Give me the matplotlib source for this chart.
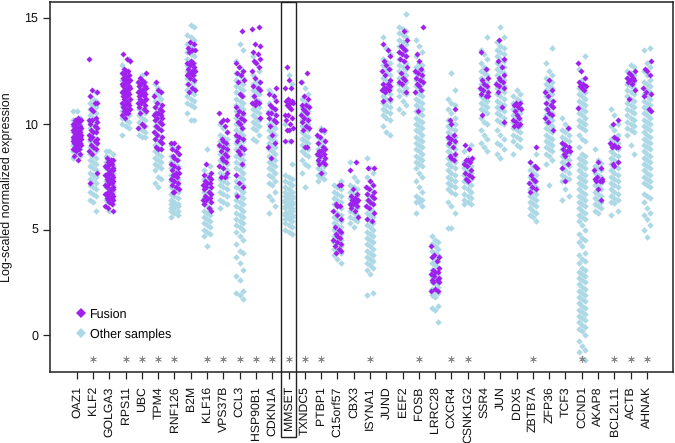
import matplotlib
matplotlib.use("Agg")
import matplotlib.pyplot as plt
from matplotlib.patches import Rectangle
from matplotlib.lines import Line2D

plt.rcParams['font.family'] = ['Liberation Sans', 'DejaVu Sans']
plt.rcParams['text.hinting'] = 'no_hinting'

genes = ["OAZ1","KLF2","GOLGA3","RPS11","UBC","TPM4","RNF126","B2M","KLF16","VPS37B","CCL3","HSP90B1","CDKN1A","MMSET",
         "TXNDC5","PTBP1","C15orf57","CBX3","ISYNA1","JUND","EEF2","FOSB","LRRC28","CXCR4","CSNK1G2","SSR4","JUN","DDX5",
         "ZBTB7A","ZFP36","TCF3","CCND1","AKAP8","BCL2L11","ACTB","AHNAK"]
starred = ["KLF2","RPS11","UBC","TPM4","RNF126","KLF16","VPS37B","CCL3","HSP90B1","CDKN1A","MMSET","TXNDC5","PTBP1",
           "ISYNA1","FOSB","CXCR4","CSNK1G2","ZBTB7A","CCND1","BCL2L11","ACTB","AHNAK"]
star_y = -1.12
yticks = [0, 5, 10, 15]

# values, other samples (_o) and fusion (_f)
OAZ1_o = [10.6,10.6,10.3,10.2,10.1,10,9.9,9.8,9.7,9.6,9.5,9.4,9.3,9.2,9.1,9,8.9,8.8,8.7,8.6,8.5,8.4]
OAZ1_f = [10.3,10.2,10.2,10.1,10.1,10,10,9.9,9.9,9.8,9.8,9.8,9.7,9.7,9.7,9.6,9.6,9.6,9.5,9.5,9.5,9.5,9.4,9.4,9.4,9.4,9.3,9.3,9.3,9.3,9.2,9.2,9.2,9.1,9.1,9.1,9,9,8.9,8.9,8.8,8.8,8.7,8.6,8.5,8.3]
KLF2_o = [11.5,11.3,11.2,11.1,11,10.9,10.8,10.7,10.6,10.5,10.4,10.3,10.2,10.1,10,9.9,9.8,9.7,9.6,9.5,9.4,9.3,9.2,9.1,9,8.9,8.8,8.7,8.6,8.5,8.4,8.3,8.2,8.1,8,7.9,7.8,7.7,7.6,7.5,7.4,7.3,7.2,7.1,7,6.9,6.8,6.7,6.6,6.4,6.3,5.9]
KLF2_f = [13.1,11.6,11.5,11.3,11,11,10.7,10.6,10.3,10.2,10.2,10.1,10,9.9,9.8,9.7,9.6,9.6,9.5,9.4,9.3,9.3,9.2,9.1,9,8.9,8.8,8.7,8.6,7.7,7.2]
GOLGA3_o = [8.7,8.7,8.6,8.5,8.4,8.3,8.2,8.1,8,7.9,7.8,7.7,7.6,7.5,7.4,7.3,7.2,7.1,7,6.9,6.8,6.7,6.6,6.5,6.4,6.3,6.2,6.1,5.9]
GOLGA3_f = [8.4,8.3,8.3,8.2,8.1,8.1,8,8,7.9,7.9,7.8,7.8,7.7,7.7,7.6,7.6,7.5,7.5,7.4,7.4,7.3,7.3,7.2,7.2,7.1,7.1,7,7,6.9,6.9,6.8,6.8,6.7,6.7,6.6,6.6,6.5,6.5,6.4,6.4,6.3,6.2,6.1,6,5.9]
RPS11_o = [13.1,12.8,12.5,12.3,12.1,11.9,11.7,11.5,11.3,11.1,10.9,10.8,10.7,10.6,10.5,10.4,10.3,10.2,10.1,10,9.9,9.8,9.5]
RPS11_f = [13.3,13.1,13,12.6,12.5,12.5,12.4,12.3,12.3,12.2,12.2,12.1,12.1,12,12,11.9,11.9,11.8,11.8,11.7,11.7,11.6,11.6,11.5,11.5,11.4,11.4,11.3,11.3,11.2,11.2,11.1,11,11,10.9,10.9,10.8,10.7,10.7,10.6,10.5,10.5,10.4,10.3]
UBC_o = [12.3,12,11.8,11.6,11.4,11.2,11,10.8,10.7,10.6,10.5,10.4,10.3,10.2,10.1,10,9.9,9.8,9.7,9.6,9.5,9.4,9.4]
UBC_f = [12.4,12.2,12.1,12,12,11.9,11.8,11.8,11.7,11.7,11.6,11.6,11.5,11.5,11.4,11.4,11.3,11.3,11.2,11.2,11.1,11.1,11,11,10.9,10.8,10.7,10.6,10.5,10,9.9,9.8]
TPM4_o = [11.9,11.7,11.5,11.4,11.3,11.2,11.1,11,10.9,10.8,10.7,10.6,10.5,10.4,10.3,10.2,10.1,10,9.9,9.8,9.7,9.6,9.5,9.4,9.3,9.2,9.1,9,8.9,8.8,8.7,8.6,8.5,8.4,8.3,8.2,8.1,8,7.9,7.8,7.5,7.4,7.2,7]
TPM4_f = [12,11.6,11.5,11.3,11,10.9,10.8,10.7,10.6,10.5,10.5,10.4,10.4,10.3,10.3,10.2,10.1,10,9.9,9.8,9.7,9.6,9.5,9.4,9.3,9.2,9.1,8.9,8.8,8.8]
RNF126_o = [9,8.8,8.6,8.5,8.4,8.3,8.2,8.1,8,7.9,7.8,7.7,7.6,7.5,7.4,7.3,7.2,7.1,7,6.9,6.8,6.7,6.6,6.5,6.4,6.3,6.2,6.2,6.1,6.1,6,6,5.9,5.9,5.8,5.7,5.6]
RNF126_f = [9.1,9.1,8.9,8.8,8.7,8.6,8.5,8.4,8.3,8.1,8,7.9,7.8,7.7,7.7,7.6,7.6,7.5,7.4,7.3,7.2,7.1,7,6.9,6.8,6.8]
B2M_o = [14.7,14.6,14.2,14.1,14,13.8,13.7,13.5,13.4,13.3,13.2,13.1,13,12.9,12.8,12.7,12.6,12.5,12.4,12.3,12.2,12.1,12,11.9,11.8,11.7,11.6,11.5,11.4,11.3,11.2,11.1,11,10.9,10.8,10.5,10.2,10.2]
B2M_f = [13.9,13.8,13.6,13.5,13.5,13.4,13,12.9,12.9,12.8,12.7,12.6,12.5,12.5,12.4,12.4,12.3,12.3,12.2,12.1,11.9,11.7,11.6,11.5]
KLF16_o = [8.8,8,7.8,7.6,7.5,7.4,7.3,7.2,7.1,7,6.9,6.8,6.7,6.6,6.5,6.4,6.3,6.2,6.1,6,5.9,5.8,5.7,5.6,5.5,5.4,5.3,5.2,5.1,5,4.9,4.8,4.7,4.2]
KLF16_f = [8.1,7.7,7.6,7.5,7.4,7.3,7.2,7.2,7.1,7,7,6.9,6.8,6.7,6.6,6.5,6.5,6.4,6.4,6.3,6.2,6,5.9]
VPS37B_o = [10,9.8,9.6,9.5,9.4,9.3,9.2,9.1,9,8.9,8.8,8.7,8.6,8.5,8.4,8.3,8.2,8.1,8,7.9,7.8,7.7,7.6,7.5,7.4,7.3,7.2,7.1,7,6.9,6.8,6.7,6.6,6.4,6.3,6.2,6]
VPS37B_f = [10.5,10.2,10.2,10.1,9.9,9.6,9.3,9.2,9.1,9,8.9,8.8,8.7,8.6,8.5,8.4,8.3,8.2,8,7.9,7.7,7.5,7.5]
CCL3_o = [13.8,13.5,13,12.7,12.5,12.4,12.3,12.2,12.1,12,11.9,11.8,11.7,11.6,11.5,11.4,11.3,11.2,11.1,11,10.9,10.8,10.7,10.6,10.5,10.4,10.3,10.2,10.1,10,9.9,9.8,9.7,9.6,9.5,9.4,9.3,9.2,9.1,9,8.9,8.8,8.7,8.6,8.5,8.4,8.3,8.2,8.1,8,7.9,7.8,7.7,7.6,7.5,7.4,7.3,7.2,7.1,7,6.9,6.8,6.7,6.6,6.5,6.4,6.3,6.2,6.1,6,5.9,5.8,5.7,5.6,5.5,5.4,5.3,5.2,5.1,5,4.9,4.7,4.5,4.3,4,3.9,3.7,3.4,3.1,2.8,2.6,2.1,2,1.9,1.7]
CCL3_f = [14.4,12.9,12.7,12.5,12.4,12.3,12.1,12,11.4,11.3,10.8,10.6,10.5,10.4,10.3,10.2,10.1,10,9.8,9.5,9.4,9.3,9.2,8.9,8.8,8.7,8.6,8.1,7.6,7.2,7,6.6]
HSP90B1_o = [13.2,12.9,12.5,12.3,12.1,12,11.9,11.8,11.7,11.6,11.5,11.4,11.3,11.2,11.1,11,10.9,10.8,10.7,10.6,10.5,10.4,10.3,10.2,10.1,10,9.9,9.8,9.7,9.5,9.3,9.2]
HSP90B1_f = [14.6,14.5,13.8,13.7,13.4,13.3,13.1,13,12.9,12.7,12.5,12.2,12,11.8,11.7,11.6,11.3,11.1,11,11,10.9,10.3]
CDKN1A_o = [11.6,11.4,11.2,11,10.8,10.7,10.6,10.5,10.4,10.3,10.2,10.1,10,9.9,9.8,9.7,9.6,9.5,9.4,9.3,9.2,9.1,9,8.9,8.8,8.7,8.6,8.5,8.4,8.3,8.2,8.1,8,7.9,7.8,7.7,7.6,7.5,7.3,7.2,7.1,6.8,6.6,6.4,6.1,5.8]
CDKN1A_f = [11.7,11.4,11.3,11.1,10.9,10.8,10.7,10.5,10.5,10.4,10.3,10.2,10.1,9.9,9.5,9.1,8.9,8.4]
MMSET_o = [12.3,11.9,10,9.2,8.1,7.6,7.5,7.4,7.3,7.2,7.1,7,6.9,6.8,6.8,6.7,6.6,6.6,6.5,6.5,6.4,6.4,6.3,6.3,6.2,6.2,6.1,6.1,6,6,5.9,5.9,5.8,5.8,5.7,5.7,5.6,5.6,5.5,5.5,5.4,5.3,5.2,5.1,5,4.9,4.8]
MMSET_f = [12.7,12.1,11.7,11.7,11.2,11.1,11.1,11,11,10.9,10.8,10.7,10.4,10.4,10.3,10.2,10,9.8,9.7,9.7,9.2,9.2]
TXNDC5_o = [12,11.7,11.4,11.2,11,10.9,10.8,10.7,10.6,10.5,10.4,10.3,10.2,10.1,10,9.9,9.8,9.7,9.6,9.5,9.4,9.3,9.2,9.1,9,8.9,8.8,8.7,8.6,8.5,8.3,8.1,8,7.7,7]
TXNDC5_f = [12.4,12,11.3,11.2,10.9,10.9,10.8,10.7,10.6,10.5,10.4,10.3,10.2,10.1,9.9,9.8,9.7,8.9,8.9]
PTBP1_o = [9.8,9.6,9.4,9.3,9.2,9.1,9,8.9,8.8,8.7,8.6,8.5,8.4,8.3,8.2,8.1,8,7.9,7.8,7.7,7.6,7.5,7.4,7.3]
PTBP1_f = [9.7,9.7,9.5,9.4,9.2,9.1,8.9,8.8,8.7,8.7,8.6,8.6,8.5,8.4,8.3,8.2,8.1,8.1,7.7]
C15orf57_o = [7.3,7.1,7,6.9,6.8,6.7,6.6,6.5,6.4,6.3,6.2,6.1,6,5.9,5.8,5.7,5.6,5.5,5.4,5.3,5.2,5.1,5,4.9,4.8,4.7,4.6,4.5,4.4,4.3,4.2,4.1,4,3.9,3.8,3.6,3.4]
C15orf57_f = [7.1,7.1,6.2,6.1,6.1,5.9,5.7,5.5,5.1,5,4.9,4.8,4.7,4.6,4.5,4.4,4.3,4.2,4.1,4,3.9]
CBX3_o = [8.2,7.5,7.3,7.1,7,6.9,6.8,6.7,6.6,6.5,6.4,6.3,6.2,6.1,6,5.9,5.8,5.7,5.6,5.5,5.4,5.3,5.1]
CBX3_f = [8.2,7.8,6.9,6.7,6.6,6.5,6.4,6.4,6.3,6.3,6.2,6.2,6.1,6,5.9,5.6]
ISYNA1_o = [8.4,7.9,7.7,7.5,7.3,7.1,7,6.9,6.8,6.7,6.6,6.5,6.4,6.3,6.2,6.1,6,5.9,5.8,5.7,5.6,5.5,5.4,5.3,5.2,5.1,5,4.9,4.8,4.7,4.6,4.5,4.4,4.3,4.2,4.1,4,3.9,3.8,3.7,3.6,3.5,3.4,3.3,3.2,3.1,2.9,2,1.9]
ISYNA1_f = [7.9,7.9,7.3,7.1,7,6.9,6.8,6.7,6.6,6.5,6.4,6.3,6.2,6.1,6,5.8,5.5,5.4]
JUND_o = [14.1,13.6,13.3,13.1,13,12.9,12.8,12.7,12.6,12.5,12.4,12.3,12.2,12.1,12,11.9,11.8,11.7,11.6,11.5,11.4,11.3,11.2,11.1,11,10.9,10.8,10.7,10.6,10.5,10.4,10.3,10.2,9.9,9.6,9.5]
JUND_f = [13.8,13.5,13.2,13,12.8,12.6,12.5,12.3,12.1,11.9,11.9,11.8,11.7,11.7,11.6,11.6,11.5,11.2,11.1]
EEF2_o = [15.2,14.6,14.5,14.4,14.3,14.2,14.1,14,13.9,13.8,13.7,13.6,13.5,13.4,13.3,13.2,13.1,13,12.9,12.8,12.7,12.6,12.5,12.4,12.3,12.2,12.1,12,11.9,11.8,11.7,11.6,11.5,11.4,11.3,11.1,10.9,10.7,10.5]
EEF2_f = [14.4,14,13.7,13.6,13.5,13.4,13.3,13.2,13.1,13,12.7,12.4,12.2,12.1,12,11.9,11.5]
FOSB_o = [14,13.7,13.4,13.2,12.9,12.8,12.7,12.6,12.5,12.4,12.3,12.2,12.1,12,11.9,11.8,11.7,11.6,11.5,11.4,11.3,11.2,11.1,11,10.9,10.8,10.7,10.6,10.5,10.4,10.3,10.2,10.1,10,9.9,9.8,9.7,9.6,9.5,9.4,9.3,9.2,9.1,9,8.9,8.8,8.7,8.6,8.5,8.4,8.3,8.2,8.1,8,7.9,7.7,7.5,7.3,7,6.8,6.6,6.5,6.4,6.3,6.3,6.1,5.8]
FOSB_f = [14.6,13.3,13,12.6,12.5,12.4,12.3,12.2,12.1,12,11.9,11.8,11.6,11.5,10.6]
LRRC28_o = [4.7,4.5,4.4,4.3,4.2,4.1,4,3.9,3.8,3.7,3.6,3.5,3.4,3.3,3.2,3.1,3,2.9,2.8,2.7,2.6,2.5,2.4,2.3,2.2,2.1,2,1.9,1.8,1.4,1.3,1.2,0.6]
LRRC28_f = [4.2,3.8,3.7,3.7,3.5,3.2,3.1,3,3,2.9,2.8,2.7,2.6,2.6,2.5,2.5,2.2,2.1,2.1]
CXCR4_o = [12.4,11.6,11.2,11,10.9,10.7,10.5,10.3,10.2,10.1,10,9.9,9.8,9.7,9.6,9.5,9.4,9.3,9.2,9.1,9,8.9,8.8,8.7,8.6,8.5,8.4,8.3,8.2,8.1,8,7.9,7.8,7.7,7.6,7.5,7.4,7.3,7.2,7.1,7,6.9,6.8,6.7,6.3,6.1,5.8,5.05,5.05]
CXCR4_f = [10.7,10.2,10,9.5,9.4,9.3,9.2,9.1,8.9,8.6,8.5,8.4,8.3]
CSNK1G2_o = [9,8.7,8.4,8.3,8.2,8.1,8,7.9,7.8,7.7,7.6,7.5,7.4,7.3,7.2,7.1,7,6.9,6.8,6.7,6.6,6.5,6.4,6.3,6.2,6.2]
CSNK1G2_f = [9,8.8,8.4,8.3,8.3,8.2,8.1,8,7.8,7.7,7.6,7.5,7.4,7.3]
SSR4_o = [14.1,13.5,13.3,13.1,12.9,12.7,12.6,12.5,12.4,12.3,12.2,12.1,12,11.9,11.8,11.7,11.6,11.5,11.4,11.3,11.2,11.1,11,10.9,10.8,10.7,10.6,10.5,10.3,10.1,10,9.7,9.5,9.3,9.1,8.9,8.7]
SSR4_f = [13.4,12.6,12.2,12.1,11.9,11.8,11.7,11.6,11.5,11.4,11.3,11.3,10.4]
JUN_o = [14.6,14.1,13.9,13.7,13.6,13.5,13.4,13.3,13.2,13.1,13,12.9,12.8,12.7,12.6,12.5,12.4,12.3,12.2,12.1,12,11.9,11.8,11.7,11.6,11.5,11.4,11.3,11.2,11.1,11,10.9,10.8,10.7,10.6,10.5,10.4,10.3,10.2,10.1,10,9.7,9.5,9.3,9.1,9,8.8,8.6,8.4]
JUN_f = [14,13.1,13,12.7,12.3,12.2,12.1,12,11.9,11.8,11.7,11.5,10.8,10.1]
DDX5_o = [11.6,11.4,11.3,11.2,11.1,11,10.9,10.8,10.7,10.6,10.5,10.4,10.3,10.2,10.1,10,9.9,9.8,9.7,9.6,9.5,9.4,9.3,9.2,9,8.9,8.6]
DDX5_f = [11,11,10.9,10.8,10.7,10.6,10.4,10.3,10.2,10.1,10,9.9,9.9]
ZBTB7A_o = [8.6,8.2,8,7.9,7.8,7.7,7.6,7.5,7.4,7.3,7.2,7.1,7,6.9,6.8,6.7,6.6,6.5,6.4,6.3,6.2,6.1,6,5.9,5.8,5.7,5.6,5.4]
ZBTB7A_f = [8.9,8.2,8,7.9,7.6,7.4,7.3,7.2,7,6.9,6.8]
ZFP36_o = [13.6,12.9,12.5,12.3,12.2,12.1,12,11.9,11.8,11.7,11.6,11.5,11.4,11.3,11.2,11.1,11,10.9,10.8,10.7,10.6,10.5,10.4,10.3,10.2,10.1,10,9.9,9.8,9.7,9.6,9.5,9.4,9.3,9.2,9.1,9,8.9,8.8,8.7,8.6,8.5,8.3,8.1,7.1]
ZFP36_f = [12.1,11.6,11.5,11.3,11.1,11,10.9,10.8,10.7,10.5,10.4,10.3,10.1,9.7]
TCF3_o = [10.3,10,9.8,9.7,9.6,9.5,9.4,9.3,9.2,9.1,9,8.9,8.8,8.7,8.6,8.5,8.4,8.3,8.2,8.1,8,7.9,7.8,7.7,7.6,7.5,7.4,7.3,6.9,6.6,6.4]
TCF3_f = [9.8,9.1,9,8.9,8.8,8.7,8.7,8.6,8.5,8.1,7.9,7.3]
CCND1_o = [13.2,12.6,12.1,11.8,11.7,11.6,11.5,11.4,11.3,11.2,11.1,11,10.9,10.8,10.7,10.6,10.5,10.4,10.3,10.2,10.1,10,9.9,9.8,9.7,9.5,9.3,9.2,8.9,8.6,8.5,8.4,8.3,8.2,8.1,8,7.9,7.8,7.7,7.6,7.5,7.4,7.3,7.2,7.1,7,6.9,6.8,6.7,6.6,6.5,6.4,6.3,6.2,6.1,6,5.9,5.8,5.7,5.6,5.5,5.4,5.2,5,4.8,4.6,4.5,4.4,4.2,3.9,3.8,3.6,3.5,3.4,3.2,3.1,3,2.9,2.8,2.7,2.6,2.5,2.4,2.3,2.2,2.1,2,1.9,1.8,1.7,1.6,1.5,1.4,1.3,1.2,1.1,1,0.9,0.8,0.7,0.6,0.5,0.4,0.3,0.2,0,-0.3,-0.5,-0.7,-0.8,-1.1,-1.2]
CCND1_f = [12.9,12.5,12.2,12,11.9,11.8,11.8,11.7,11.6,10.75]
AKAP8_o = [8.8,8.3,8.15,8,7.9,7.8,7.7,7.6,7.5,7.4,7.3,7.2,7.1,7,6.9,6.8,6.7,6.6,6.5,6.4,6.3,6.2,6.1,6,5.9,5.8]
AKAP8_f = [8.2,7.9,7.8,7.5,7.4,7.3,7.3,7.3,7.4,6.9,6.4]
BCL2L11_o = [10.7,10.4,10,9.9,9.7,9.5,9.3,9.2,9.1,9,8.9,8.8,8.7,8.6,8.5,8.4,8.3,8.2,8.1,8,7.9,7.8,7.7,7.6,7.5,7.4,7.3,7.2,7.1,7,6.9,6.8,6.7,6.6,6.5,6.4,6.3,6.25,5.9,5.7]
BCL2L11_f = [10.2,10,9.4,9.3,9.1,9,8.9,8.9,8.9,8.2,8.1,8]
ACTB_o = [12.8,12.7,12.5,12.4,12.3,12.2,12.1,12,11.9,11.8,11.7,11.6,11.5,11.4,11.3,11.2,11.1,11,10.9,10.8,10.7,10.6,10.5,10.4,10.3,10.2,10.1,10,9.9,9.8,9.7,9.6,9.5,9,8.6]
ACTB_f = [12.5,12.4,12.3,12.2,12.2,12.1,12.1,12,11.9,11.6,11.2]
AHNAK_o = [13.6,13.5,12.9,12.7,12.5,12.3,12.1,12,11.9,11.8,11.7,11.6,11.5,11.4,11.3,11.2,11.1,11,10.9,10.8,10.7,10.6,10.5,10.4,10.3,10.2,10.1,10,9.9,9.8,9.7,9.6,9.5,9.4,9.3,9.2,9.1,9,8.9,8.8,8.7,8.6,8.5,8.4,8.3,8.2,8.1,8,7.9,7.8,7.7,7.6,7.5,7.4,7.3,7.2,7.1,7,6.7,6.6,6.5,6.3,6,5.8,5.7,5.5,5.2,5,4.65]
AHNAK_f = [13,12.6,12.5,12.3,11.7,11.5,11.4,11.3,10.7,10.6]

other = [OAZ1_o,KLF2_o,GOLGA3_o,RPS11_o,UBC_o,TPM4_o,RNF126_o,B2M_o,KLF16_o,VPS37B_o,CCL3_o,HSP90B1_o,CDKN1A_o,MMSET_o,
         TXNDC5_o,PTBP1_o,C15orf57_o,CBX3_o,ISYNA1_o,JUND_o,EEF2_o,FOSB_o,LRRC28_o,CXCR4_o,CSNK1G2_o,SSR4_o,JUN_o,DDX5_o,
         ZBTB7A_o,ZFP36_o,TCF3_o,CCND1_o,AKAP8_o,BCL2L11_o,ACTB_o,AHNAK_o]
fusion = [OAZ1_f,KLF2_f,GOLGA3_f,RPS11_f,UBC_f,TPM4_f,RNF126_f,B2M_f,KLF16_f,VPS37B_f,CCL3_f,HSP90B1_f,CDKN1A_f,MMSET_f,
          TXNDC5_f,PTBP1_f,C15orf57_f,CBX3_f,ISYNA1_f,JUND_f,EEF2_f,FOSB_f,LRRC28_f,CXCR4_f,CSNK1G2_f,SSR4_f,JUN_f,DDX5_f,
          ZBTB7A_f,ZFP36_f,TCF3_f,CCND1_f,AKAP8_f,BCL2L11_f,ACTB_f,AHNAK_f]

# fixed spread across the column, instead of random jitter
spread_o = [-0.2,0.2,0.0]
spread_f = [0.1,-0.17,0.22,-0.05,-0.24,0.16,0.0,-0.11,0.25]
PURPLE = "#A020F0"
BLUE = "#ADD8E6"
DARK = "#222222"

fig = plt.figure(figsize=(6.75, 4.43), dpi=100)
ax = fig.add_axes([49.5/675, (443-372)/443, (673-49.5)/675, (372-1.5)/443])


def columns(values, spread):
    xs, ys = [], []
    for i, vals in enumerate(values):
        for j, v in enumerate(sorted(vals)):
            xs.append(i + 1 + spread[(j + i) % len(spread)])
            ys.append(v)
    return xs, ys


xs, ys = columns(other, spread_o)
ax.scatter(xs, ys, s=11, marker="D", color=BLUE, linewidths=0, zorder=2)
xs, ys = columns(fusion, spread_f)
ax.scatter(xs, ys, s=9.5, marker="D", color=PURPLE, linewidths=0, zorder=3)

star_x = [genes.index(g) + 1 for g in starred]
ax.scatter(star_x, [star_y] * len(star_x), s=20, marker=(6, 2, 0), color="#888888", linewidths=0.5, zorder=4)

ax.set_xlim(-0.67, 37.6)
ax.set_ylim(-1.75, 15.8)
ax.set_xticks(range(1, len(genes) + 1))
ax.set_xticklabels(genes, rotation=90, fontsize=8.8, color="#111111")
ax.set_yticks(yticks)
ax.set_yticklabels([str(t) for t in yticks], fontsize=9, color="#111111")
ax.set_ylabel("Log-scaled normalized expression", fontsize=9, color="#111111")
ax.yaxis.set_label_coords(-0.0585, 0.5)
ax.tick_params(axis="x", length=4.7, width=0.9, color=DARK, pad=5.5)
ax.tick_params(axis="y", length=4.7, width=0.9, color=DARK, pad=3.5)
for s in ax.spines.values():
    s.set_linewidth(1.1)
    s.set_color(DARK)

# box around the MMSET column, runs down over its label
m = genes.index("MMSET") + 1
ax.add_patch(Rectangle((m - 0.49, 1.0), 0.98, -1.175, transform=ax.get_xaxis_transform(), fill=False,
                       edgecolor=DARK, linewidth=1.0, clip_on=False, zorder=5))

handles = [Line2D([], [], linestyle="", marker="D", markersize=5, color=PURPLE, markeredgewidth=0, label="Fusion"),
           Line2D([], [], linestyle="", marker="D", markersize=5, color=BLUE, markeredgewidth=0, label="Other samples")]
ax.legend(handles=handles, loc="lower left", bbox_to_anchor=(0.04, 0.085), frameon=False, fontsize=9,
          handlelength=1.0, handletextpad=0.25, labelspacing=0.65, borderpad=0, borderaxespad=0)

plt.savefig("out.png", dpi=100)
